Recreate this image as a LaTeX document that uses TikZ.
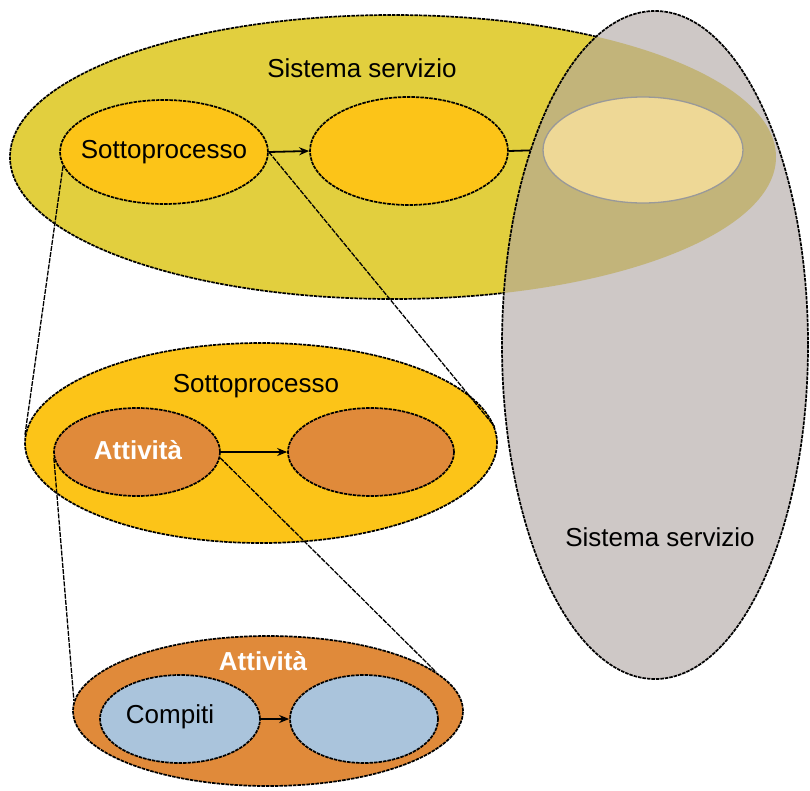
\documentclass[tikz,border=0pt]{standalone}
\usepackage{fontspec}
\setmainfont{Liberation Sans}
\usetikzlibrary{shapes.geometric,arrows.meta}
\definecolor{sysyellow}{RGB}{226,207,62}
\definecolor{gold}{RGB}{252,196,24}
\definecolor{orng}{RGB}{224,138,58}
\definecolor{lblue}{RGB}{170,196,220}
\definecolor{greyell}{RGB}{206,200,198}
\definecolor{overlap}{RGB}{194,180,122}
\definecolor{paleell}{RGB}{238,216,150}
\tikzset{
  outl/.style={draw=black, line width=1.7pt, dash pattern=on 3.5pt off 1pt},
  ell/.style={ellipse, inner sep=0pt, outl},
  lbl/.style={font=\fontsize{26}{28}\selectfont, text=black, inner sep=0pt},
  wlbl/.style={font=\fontsize{26}{28}\selectfont\bfseries, text=white, inner sep=0pt},
  conn/.style={draw=black, line width=1.3pt, dash pattern=on 5pt off 1.2pt},
  arr/.style={draw=black, line width=1.8pt, -{Stealth[length=10pt,width=8pt]}},
}
\begin{document}
\begin{tikzpicture}[x=1pt,y=-1pt]
\useasboundingbox (0,0) rectangle (810,790);
% top system
\node[ell, fill=sysyellow, minimum width=766pt, minimum height=284pt] (sys) at (393,157) {};
\node[lbl] (systxt) at (362,68) {Sistema servizio};
\node[ell, fill=gold, minimum width=208pt, minimum height=104pt] (s1) at (164,152) {};
\node[lbl] at (s1) {Sottoprocesso};
\node[ell, fill=gold, minimum width=198pt, minimum height=108pt] (s2) at (409,151) {};
\node[ellipse, inner sep=0pt, minimum width=200pt, minimum height=106pt] (s3) at (643,150) {};
\draw[draw=black, line width=1.8pt] (s2.east) -- (s3.west);
\draw[arr] (s1.east) -- (s2.west);
% grey system
\node[ellipse, inner sep=0pt, fill=greyell, minimum width=306pt, minimum height=668pt] (gsys) at (655,345) {};
\begin{scope}
  \clip (655,345) ellipse [x radius=153, y radius=334];
  \fill[overlap] (393,157) ellipse [x radius=383, y radius=142];
\end{scope}
\draw[fill=paleell, draw=gray!80, line width=1.3pt] (643,150) ellipse [x radius=100, y radius=53];
\draw[outl] (655,345) ellipse [x radius=153, y radius=334];
\node[lbl] (gtxt) at (660,537) {Sistema servizio};
% middle
\node[ell, fill=gold, minimum width=472pt, minimum height=200pt] (m) at (261,443) {};
\node[lbl] (mtxt) at (256,386) {Sottoprocesso};
\node[ell, fill=orng, minimum width=166pt, minimum height=88pt] (a1) at (137,452) {};
\node[wlbl] at (138,450) {Attività};
\node[ell, fill=orng, minimum width=166pt, minimum height=88pt] (a2) at (371,452) {};
\draw[arr] (a1.east) -- (a2.west);
% bottom
\node[ell, fill=orng, minimum width=390pt, minimum height=150pt] (b) at (268,711) {};
\node[wlbl] (btxt) at (263,661) {Attività};
\node[ell, fill=lblue, minimum width=160pt, minimum height=88pt] (c1) at (180,719) {};
\node[lbl] at (170,717) {Compiti};
\node[ell, fill=lblue, minimum width=148pt, minimum height=88pt] (c2) at (364,719) {};
\draw[arr] (c1.east) -- (c2.west);
% zoom connectors
\draw[conn] (s1.188) -- (m.178);
\draw[conn] (s1.east) -- (m.4);
\draw[conn] (a1.184) -- (b.177);
\draw[conn] (a1.356) -- (b.13);
\end{tikzpicture}
\end{document}
